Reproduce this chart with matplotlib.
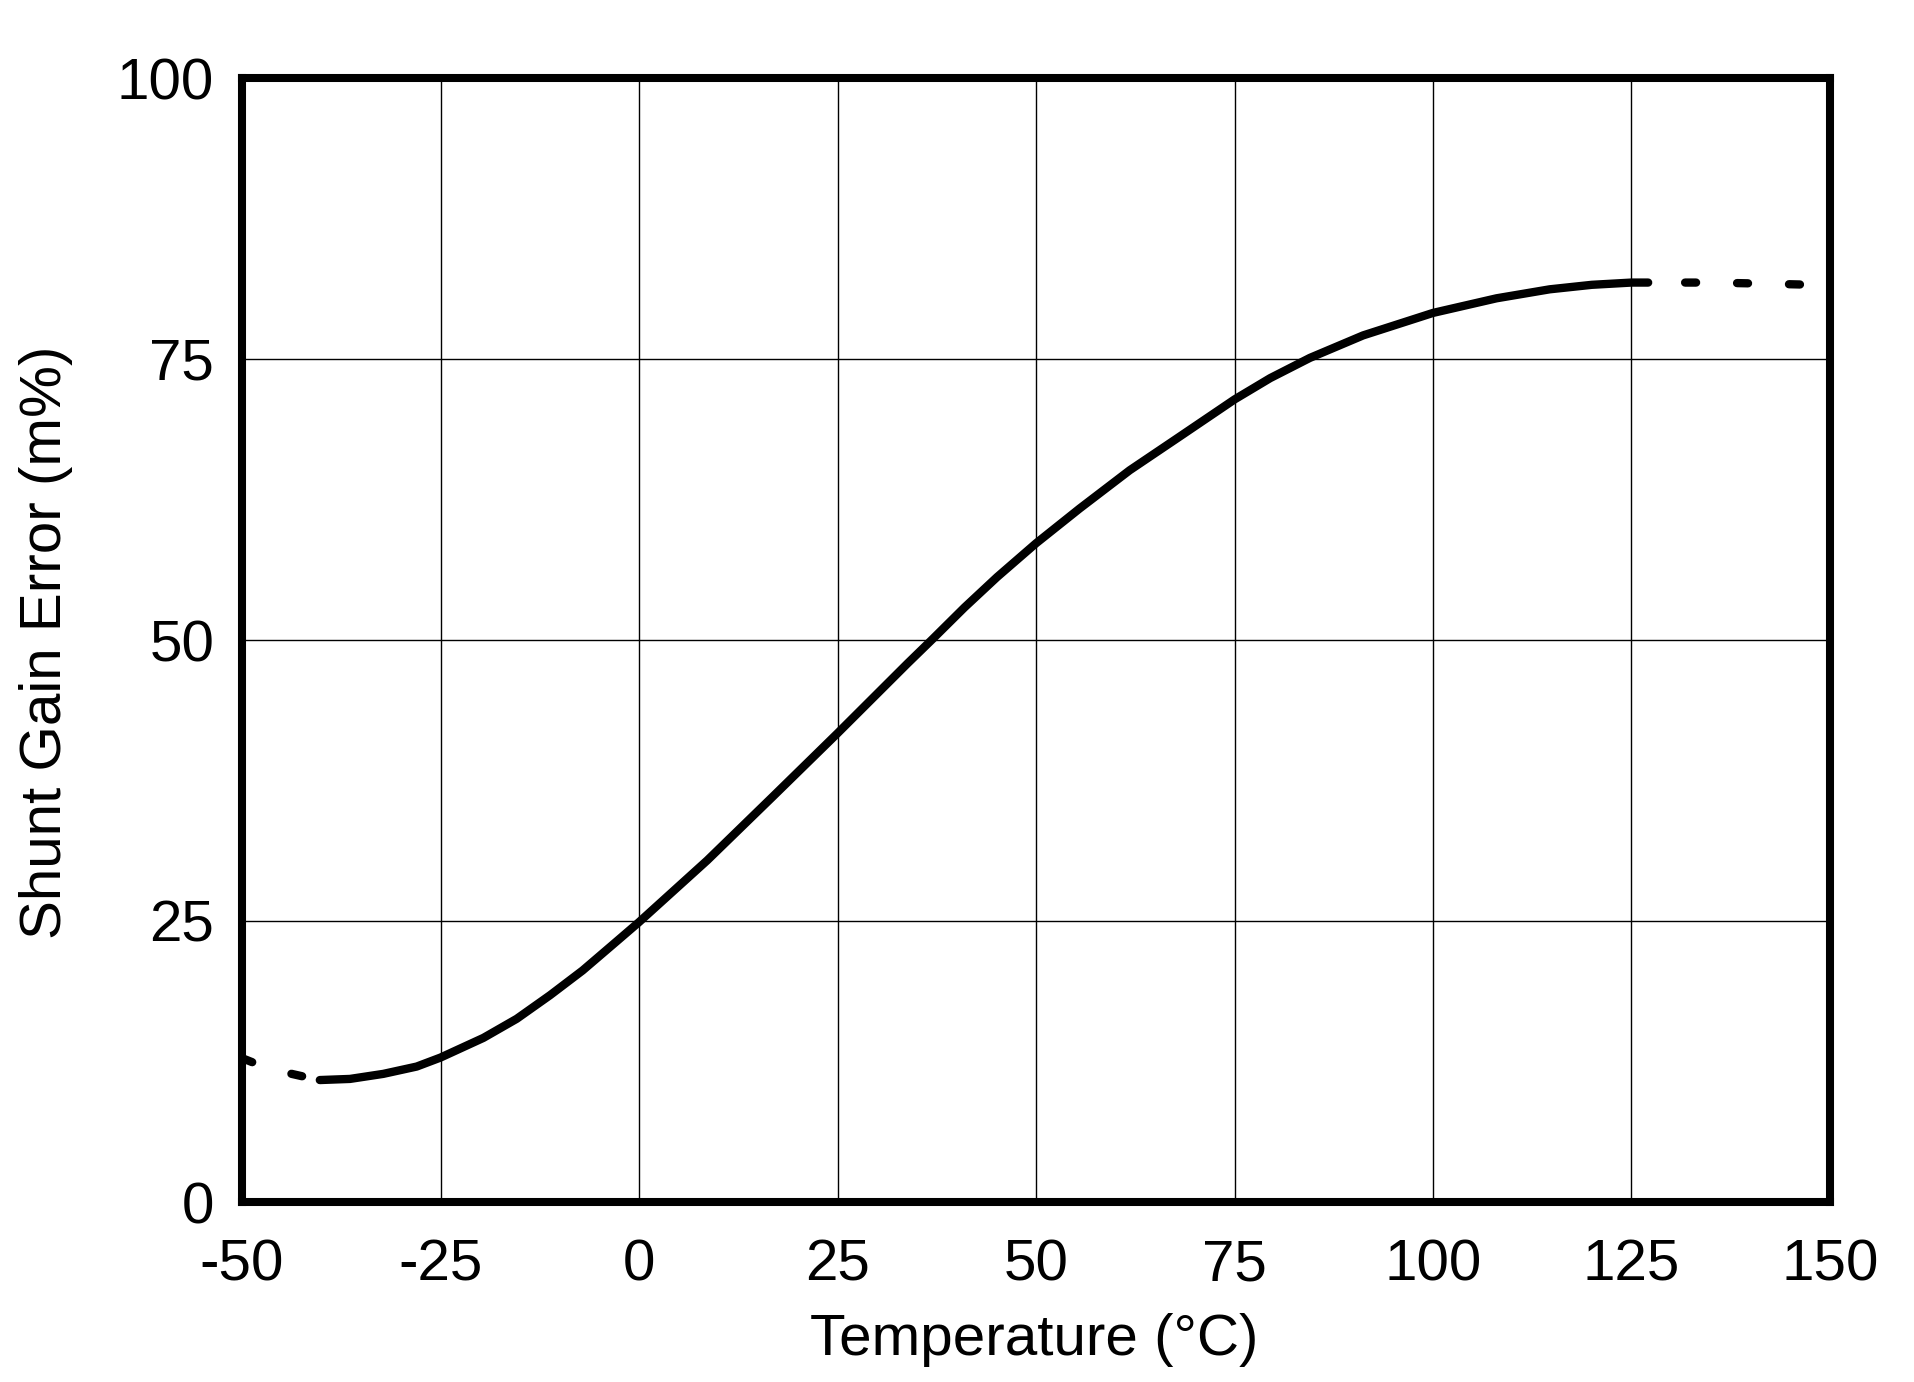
"""
Shunt gain error vs temperature
"""
import matplotlib
matplotlib.use("Agg")
import matplotlib.pyplot as plt

plt.rcParams['font.family'] = ['Liberation Sans', 'DejaVu Sans']
plt.rcParams['lines.scale_dashes'] = False
plt.rcParams['axes.unicode_minus'] = False

# data (temperature in °C, error in m%)
temp_solid = [-40.2, -36.4, -32.2, -28.0, -25.0, -19.6, -15.4, -11.2, -7.1, -2.8,
              0.0, 8.6, 16.9, 25.0, 33.8, 37.0, 41.0, 45.1, 50.0, 55.5, 61.8,
              68.1, 75.0, 79.5, 84.5, 91.2, 100.0, 108.0, 114.7, 120.0, 125.0, 127.1]
err_solid = [10.85, 10.95, 11.4, 12.05, 12.85, 14.6, 16.3, 18.4, 20.6, 23.2,
             24.9, 30.4, 36.1, 41.7, 47.9, 50.1, 52.9, 55.6, 58.6, 61.7, 65.1,
             68.1, 71.4, 73.3, 75.1, 77.1, 79.1, 80.4, 81.2, 81.6, 81.8, 81.8]

temp_low = [-50.0, -47.5, -45.0, -42.5, -40.2]
err_low = [12.8, 12.1, 11.6, 11.2, 10.85]

temp_high = [127.1, 135.0, 142.0, 148.0]
err_high = [81.8, 81.8, 81.7, 81.6]

x_ticks = [-50, -25, 0, 25, 50, 75, 100, 125, 150]
y_ticks = [0, 25, 50, 75, 100]

fig = plt.figure(figsize=(19.15, 13.82), dpi=100)
ax = fig.add_axes([242 / 1915, 1 - 1202 / 1382, 1588 / 1915, 1124 / 1382])

lw = 6.0   # ~8 px
ax.plot(temp_solid, err_solid, color='black', lw=lw, solid_capstyle='round',
        solid_joinstyle='round', zorder=3)
ax.plot(temp_low, err_low, color='black', lw=lw, dash_capstyle='round',
        linestyle=(0, (7.9, 29.5)), zorder=3)
ax.plot(temp_high, err_high, color='black', lw=lw, dash_capstyle='round',
        linestyle=(10.8, (7.9, 29.5)), zorder=3)

ax.set_xlim(-50, 150)
ax.set_ylim(0, 100)
ax.set_xticks(x_ticks)
ax.set_yticks(y_ticks)
ax.grid(True, color='black', lw=1.0)
ax.set_axisbelow(True)

for s in ax.spines.values():
    s.set_linewidth(5.8)
    s.set_zorder(4)

ax.tick_params(axis='both', length=0, labelsize=42)
ax.tick_params(axis='x', pad=26)
ax.tick_params(axis='y', pad=20)

ax.set_xlabel('Temperature (°C)', fontsize=42)
ax.set_ylabel('Shunt Gain Error (m%)', fontsize=42)
ax.xaxis.set_label_coords(0.499, -0.123)
ax.xaxis.label.set_va('center')
ax.yaxis.set_label_coords(-0.1234, 0.498)
ax.yaxis.label.set_va('center')

fig.savefig('out.png', dpi=100)
